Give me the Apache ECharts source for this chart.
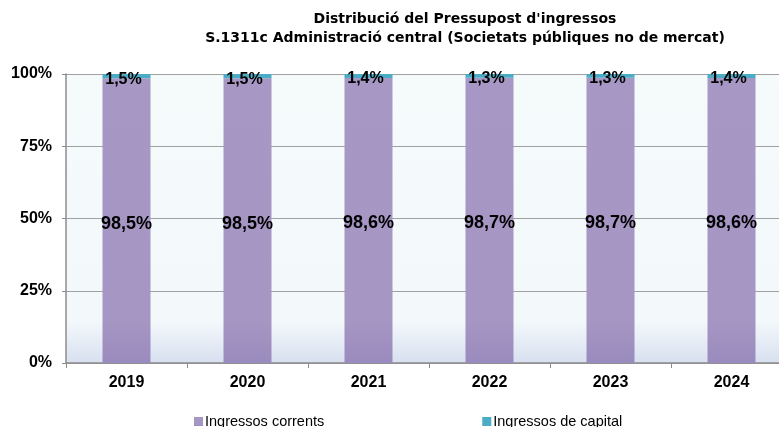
<!DOCTYPE html>
<html>
<head>
<meta charset="utf-8">
<script src="https://cdn.jsdelivr.net/npm/echarts@6/dist/echarts.min.js"></script>
<style>
  html, body { margin: 0; padding: 0; background: #fff; }
  #chart { width: 779px; height: 427px; }
</style>
</head>
<body>
<div id="chart"></div>
<script>
const years = ['2019', '2020', '2021', '2022', '2023', '2024'];
const corrents = [98.5, 98.5, 98.6, 98.7, 98.7, 98.6];
const capital = [1.5, 1.5, 1.4, 1.3, 1.3, 1.4];
const yTicks = ['0%', '25%', '50%', '75%', '100%'];

const fmt = v => String(v.toFixed(1)).replace('.', ',') + '%';

const chart = echarts.init(document.getElementById('chart'));
chart.setOption({
  animation: false,
  textStyle: { fontFamily: 'Liberation Sans, Arial, sans-serif' },
  title: {
    text: "Distribució del Pressupost d'ingressos\nS.1311c Administració central (Societats públiques no de mercat)",
    left: 460,
    textAlign: 'center',
    top: 5,
    textStyle: { fontFamily: 'DejaVu Sans', fontSize: 14, fontWeight: 'bold', color: '#000', lineHeight: 19 }
  },
  legend: {
    left: 194,
    top: 414,
    itemWidth: 9,
    itemHeight: 9,
    itemGap: 158,
    icon: 'rect',
    padding: 0,
    textStyle: { fontSize: 14.5, color: '#000', padding: [0, 0, 0, -3] },
    data: ['Ingressos corrents', 'Ingressos de capital']
  },
  grid: {
    left: 66, width: 726, top: 74, bottom: 64,
    outerBoundsMode: 'none',
    containLabel: false,
    show: true,
    borderWidth: 0,
    backgroundColor: new echarts.graphic.LinearGradient(0, 0, 0, 1, [
      { offset: 0, color: '#F5FBFB' },
      { offset: 0.85, color: '#F3F9FB' },
      { offset: 1, color: '#D8E0F0' }
    ])
  },
  xAxis: {
    type: 'category',
    data: years,
    axisLine: { lineStyle: { color: '#8C8C8C', width: 1.5 } },
    axisTick: { show: true, length: 5, lineStyle: { color: '#8C8C8C' } },
    axisLabel: { fontSize: 16, fontWeight: 'bold', color: '#000', margin: 12 }
  },
  yAxis: {
    type: 'value',
    min: 0, max: 100, interval: 25,
    axisLine: { show: true, lineStyle: { color: '#8C8C8C', width: 1.5 } },
    axisTick: { show: true, length: 4, lineStyle: { color: '#8C8C8C' } },
    splitLine: { lineStyle: { color: '#A0A0A0', width: 1 } },
    axisLabel: {
      fontSize: 16, fontWeight: 'bold', color: '#000', margin: 14,
      verticalAlign: 'middle', padding: [4, 0, 0, 0],
      formatter: v => yTicks[v / 25]
    }
  },
  series: [
    {
      name: 'Ingressos corrents',
      type: 'bar',
      stack: 'total',
      barWidth: 48,
      data: corrents,
      itemStyle: {
        color: new echarts.graphic.LinearGradient(0, 0, 0, 1, [
          { offset: 0, color: '#A797C4' },
          { offset: 0.85, color: '#A696C3' },
          { offset: 1, color: '#9A8BBE' }
        ])
      },
      label: {
        show: true, position: 'inside', offset: [0, 3],
        fontSize: 18, fontWeight: 'bold', color: '#000',
        formatter: p => fmt(p.value)
      }
    },
    {
      name: 'Ingressos de capital',
      type: 'bar',
      stack: 'total',
      barWidth: 48,
      data: capital,
      itemStyle: { color: '#4BACC6' },
      label: {
        show: true, position: 'inside', offset: [-3, 3],
        fontSize: 16, fontWeight: 'bold', color: '#000',
        formatter: p => fmt(p.value)
      }
    }
  ]
});
</script>
</body>
</html>
